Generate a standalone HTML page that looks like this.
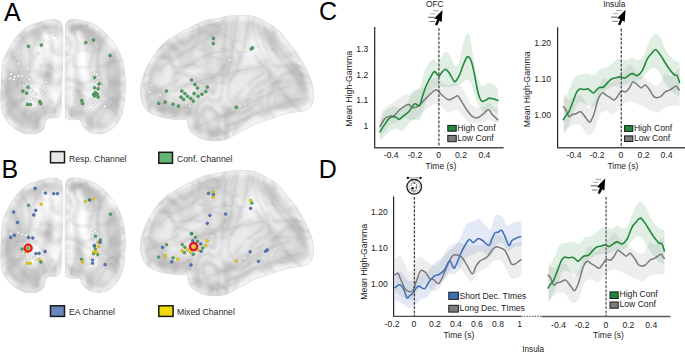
<!DOCTYPE html><html><head><meta charset="utf-8"><style>html,body{margin:0;padding:0;background:#fff;}svg{display:block;}text{font-family:"Liberation Sans",sans-serif;}</style></head><body>
<svg width="685" height="353" viewBox="0 0 685 353">
<defs>
<radialGradient id="gl" cx="50%" cy="45%" r="60%"><stop offset="0" stop-color="#d9d9d9"/><stop offset="0.8" stop-color="#d6d6d6"/><stop offset="1" stop-color="#e4e4e4"/></radialGradient>
<filter id="tex" x="0" y="0" width="1" height="1" color-interpolation-filters="sRGB"><feTurbulence type="turbulence" baseFrequency="0.04 0.06" numOctaves="2" seed="7"/><feColorMatrix type="matrix" values="0 0 0 0 0.55  0 0 0 0 0.55  0 0 0 0 0.55  -0.9 0 0 0 0.22"/></filter>
<filter id="tex2" x="0" y="0" width="1" height="1" color-interpolation-filters="sRGB"><feTurbulence type="fractalNoise" baseFrequency="0.03" numOctaves="2" seed="11"/><feColorMatrix type="matrix" values="0 0 0 0 1  0 0 0 0 1  0 0 0 0 1  1.6 0 0 0 -0.6"/></filter>
<filter id="folds" x="0" y="0" width="1" height="1" color-interpolation-filters="sRGB"><feTurbulence type="fractalNoise" baseFrequency="0.022 0.016" numOctaves="2" seed="21"/><feColorMatrix type="matrix" values="0 0 0 0 0.3  0 0 0 0 0.3  0 0 0 0 0.3  1 0 0 0 0"/><feComponentTransfer><feFuncA type="table" tableValues="0.00 0.00 0.00 0.00 0.00 0.00 0.00 0.00 0.00 0.00 0.00 0.00 0.00 0.00 0.00 0.04 0.14 0.04 0.00 0.04 0.14 0.04 0.00 0.04 0.14 0.04 0.00 0.00 0.00 0.00 0.00 0.00 0.00 0.00 0.00 0.00 0.00 0.00 0.00 0.00 0.00"/></feComponentTransfer><feGaussianBlur stdDeviation="0.8"/></filter>
<filter id="soft" x="-0.1" y="-0.1" width="1.2" height="1.2"><feGaussianBlur stdDeviation="2.5"/></filter>
<filter id="blur1"><feGaussianBlur stdDeviation="0.6"/></filter>
<path id="blat" d="M140.3,92.1 C140.3,89.3 140.7,86.4 141.4,83.0 C142.2,79.6 143.3,75.5 144.8,71.7 C146.3,67.9 148.2,64.2 150.5,60.4 C152.8,56.6 155.6,52.4 158.4,49.0 C161.2,45.6 164.8,42.1 167.4,40.0 C170.0,37.9 171.3,37.9 173.8,36.4 C176.3,34.9 179.6,32.9 182.5,31.3 C185.4,29.7 188.4,28.4 191.3,26.9 C194.2,25.4 197.1,23.7 200.0,22.5 C202.9,21.3 205.9,20.3 208.8,19.6 C211.7,18.9 214.2,19.0 217.6,18.4 C221.0,17.8 225.3,16.5 229.2,16.0 C233.1,15.5 237.0,15.6 240.9,15.6 C244.8,15.6 249.7,15.6 252.6,16.0 C255.5,16.4 255.8,16.9 258.4,18.1 C261.0,19.3 264.8,21.2 268.0,23.1 C271.2,25.0 274.6,26.6 277.8,29.6 C281.1,32.6 284.5,37.4 287.5,41.0 C290.5,44.6 293.5,48.0 295.6,51.0 C297.8,54.0 298.8,56.4 300.4,59.0 C302.0,61.6 303.7,64.1 305.0,66.5 C306.3,68.9 307.2,70.9 308.3,73.6 C309.4,76.3 310.8,79.4 311.7,82.6 C312.6,85.8 313.3,89.8 313.5,93.0 C313.7,96.2 313.5,99.5 312.8,102.0 C312.1,104.5 311.1,106.7 309.4,108.2 C307.7,109.7 304.9,110.3 302.6,110.9 C300.3,111.5 298.1,111.6 295.8,112.0 C293.5,112.4 291.6,112.6 289.0,113.2 C286.4,113.8 282.8,114.7 280.0,115.6 C277.2,116.5 274.3,117.7 272.0,118.5 C269.7,119.3 268.0,119.9 266.0,120.6 C264.0,121.3 262.0,121.9 260.0,122.6 C258.0,123.3 255.8,123.8 254.0,124.6 C252.2,125.4 250.6,126.3 248.9,127.3 C247.2,128.3 245.6,129.5 244.0,130.4 C242.4,131.3 241.0,131.6 239.2,132.5 C237.4,133.4 235.3,134.8 233.4,135.8 C231.5,136.8 229.8,137.9 227.6,138.7 C225.4,139.5 222.7,140.2 220.3,140.6 C217.9,141.0 215.7,141.1 213.0,140.9 C210.3,140.7 206.9,140.1 204.2,139.4 C201.5,138.7 199.1,137.7 196.9,136.5 C194.7,135.3 192.6,133.8 191.1,132.1 C189.6,130.4 188.7,128.2 188.1,126.3 C187.5,124.3 188.4,121.5 187.4,120.4 C186.4,119.3 184.9,119.7 182.3,119.5 C179.7,119.3 175.6,119.6 172.0,119.2 C168.4,118.8 164.0,117.9 160.6,117.0 C157.2,116.1 154.2,115.1 151.6,113.6 C149.0,112.1 146.5,110.2 144.8,107.9 C143.1,105.6 142.2,102.6 141.4,100.0 C140.7,97.4 140.3,94.9 140.3,92.1Z"/>
<path id="baxl" d="M58.0,20.3 C59.5,20.9 60.5,21.7 61.3,23.0 C62.0,24.3 62.2,25.2 62.5,28.0 C62.8,30.8 62.8,35.5 62.8,40.0 C62.8,44.5 62.8,50.0 62.8,55.0 C62.8,60.0 62.7,65.0 62.5,70.0 C62.3,75.0 62.0,80.5 61.8,85.0 C61.6,89.5 61.6,93.3 61.5,97.0 C61.4,100.7 61.5,104.1 61.2,107.2 C60.9,110.3 60.4,114.0 59.5,115.7 C58.6,117.5 57.8,117.3 56.1,117.7 C54.4,118.1 51.0,117.7 49.3,118.2 C47.6,118.7 46.9,118.9 45.9,120.8 C44.9,122.7 44.7,127.2 43.3,129.3 C41.9,131.4 39.8,132.7 37.4,133.5 C35.0,134.3 31.4,134.1 28.9,134.0 C26.3,133.9 24.7,133.8 22.1,132.7 C19.6,131.6 16.1,129.6 13.6,127.6 C11.0,125.6 8.8,123.6 6.8,120.8 C4.8,118.0 2.7,114.6 1.7,110.6 C0.7,106.6 0.9,102.1 0.8,97.0 C0.7,91.9 1.0,85.5 1.3,80.0 C1.6,74.5 2.0,68.0 2.6,64.0 C3.2,60.0 3.8,59.2 5.1,56.2 C6.4,53.2 8.2,49.4 10.2,46.0 C12.2,42.6 14.4,38.8 17.0,35.8 C19.6,32.8 22.7,30.1 25.5,28.1 C28.3,26.1 31.2,25.0 34.0,23.9 C36.8,22.8 39.5,22.0 42.5,21.3 C45.5,20.6 49.4,19.8 52.0,19.6 C54.6,19.4 56.5,19.7 58.0,20.3Z"/>
<path id="baxr" d="M66.6,22.5 C67.2,21.3 68.3,20.6 69.5,20.0 C70.7,19.4 72.0,19.1 74.0,19.2 C76.0,19.3 78.1,19.6 81.6,20.5 C85.1,21.4 90.8,22.2 94.9,24.5 C99.0,26.8 102.8,30.5 106.3,34.0 C109.8,37.5 113.0,41.1 115.7,45.4 C118.4,49.7 120.7,54.6 122.3,60.0 C123.9,65.4 124.7,73.0 125.2,78.0 C125.7,83.0 125.4,85.8 125.2,90.0 C125.0,94.2 124.9,99.2 124.3,103.5 C123.7,107.8 122.8,112.4 121.4,116.0 C120.0,119.6 117.9,122.6 115.7,125.2 C113.5,127.8 111.0,130.0 108.2,131.4 C105.4,132.8 101.9,133.7 98.7,133.8 C95.5,133.9 91.9,133.2 89.2,131.9 C86.5,130.6 84.2,128.2 82.6,126.2 C81.0,124.2 81.5,120.6 79.7,119.6 C78.0,118.6 74.2,120.3 72.1,120.1 C69.9,119.9 67.9,119.8 66.8,118.6 C65.7,117.4 65.6,120.3 65.3,113.0 C65.0,105.7 65.1,87.2 65.1,75.0 C65.1,62.8 65.1,48.0 65.2,40.0 C65.3,32.0 65.4,29.9 65.6,27.0 C65.8,24.1 65.9,23.7 66.6,22.5Z"/>
<clipPath id="clat"><use href="#blat"/></clipPath>
<clipPath id="caxl"><use href="#baxl"/></clipPath>
<clipPath id="caxr"><use href="#baxr"/></clipPath>
<clipPath id="cCL"><rect x="375" y="26" width="130" height="121.5"/></clipPath>
<clipPath id="cCR"><rect x="558" y="26" width="127" height="121.5"/></clipPath>
<clipPath id="cDL"><rect x="394" y="195" width="127.6" height="121"/></clipPath>
<clipPath id="cDR"><rect x="540" y="195" width="132" height="121"/></clipPath>
</defs>
<defs><filter id="bl5" filterUnits="userSpaceOnUse" x="-20" y="-20" width="400" height="200"><feGaussianBlur stdDeviation="5"/></filter>
<filter id="bl3" filterUnits="userSpaceOnUse" x="-20" y="-20" width="400" height="200"><feGaussianBlur stdDeviation="3"/></filter>
<filter id="bl2" filterUnits="userSpaceOnUse" x="-20" y="-20" width="400" height="200"><feGaussianBlur stdDeviation="2"/></filter>
<filter id="bl05" filterUnits="userSpaceOnUse" x="-20" y="-20" width="400" height="200"><feGaussianBlur stdDeviation="0.5"/></filter>
<filter id="bl15" filterUnits="userSpaceOnUse" x="-20" y="-20" width="400" height="200"><feGaussianBlur stdDeviation="1.5"/></filter>
<filter id="bl1" filterUnits="userSpaceOnUse" x="-20" y="-20" width="400" height="200"><feGaussianBlur stdDeviation="1"/></filter>
<filter id="bl07" filterUnits="userSpaceOnUse" x="-20" y="-20" width="400" height="200"><feGaussianBlur stdDeviation="0.7"/></filter>
<g id="gax" filter="url(#bl07)">
<use href="#baxl" fill="#e2e2e2"/>
<g clip-path="url(#caxl)">
<use href="#baxl" fill="none" stroke="#c2c2c2" stroke-width="30" filter="url(#bl5)"/>
<path d="M47,32 C44,47 40,63 37,78 S31,98 31,106 M59,34 L57,108" fill="none" stroke="#ffffff" stroke-width="12" filter="url(#bl2)"/>
<use href="#baxl" fill="none" stroke="#ededed" stroke-width="9" filter="url(#bl15)"/>
<rect x="0" y="10" width="130" height="130" filter="url(#tex)"/><rect x="0" y="10" width="130" height="130" filter="url(#tex2)"/><rect x="0" y="10" width="130" height="130" filter="url(#folds)"/>
<g fill="none" stroke="#9a9a9a" stroke-width="1" stroke-opacity="0.2" filter="url(#bl05)"><path d="M10,50 C20,60 22,75 15,90"/><path d="M20,35 C30,45 33,60 28,75"/><path d="M8,100 C18,105 25,112 30,125"/><path d="M45,25 C40,35 35,45 30,50"/><path d="M50,100 C55,105 57,112 55,118"/><path d="M5,70 C12,72 18,80 20,95"/></g>
<g fill="none" stroke="#b0b0b0" stroke-width="4.5" stroke-opacity="0.28" filter="url(#bl2)"><path d="M10,50 C20,60 22,75 15,90"/><path d="M20,35 C30,45 33,60 28,75"/><path d="M8,100 C18,105 25,112 30,125"/><path d="M45,25 C40,35 35,45 30,50"/><path d="M50,100 C55,105 57,112 55,118"/><path d="M5,70 C12,72 18,80 20,95"/></g>
</g>
<use href="#baxl" fill="none" stroke="#dadada" stroke-width="0.5"/>
<use href="#baxr" fill="#e2e2e2"/>
<g clip-path="url(#caxr)">
<use href="#baxr" fill="none" stroke="#c2c2c2" stroke-width="30" filter="url(#bl5)"/>
<path d="M76,32 C79,47 83,63 87,80 S92,100 92,108 M68,34 L69,108" fill="none" stroke="#ffffff" stroke-width="12" filter="url(#bl2)"/>
<use href="#baxr" fill="none" stroke="#ededed" stroke-width="9" filter="url(#bl15)"/>
<rect x="0" y="10" width="130" height="130" filter="url(#tex)"/><rect x="0" y="10" width="130" height="130" filter="url(#tex2)"/><rect x="0" y="10" width="130" height="130" filter="url(#folds)"/>
<g fill="none" stroke="#9a9a9a" stroke-width="1" stroke-opacity="0.2" filter="url(#bl05)"><path d="M117.2,50.0 C107.2,60.0 105.2,75.0 112.2,90.0"/><path d="M107.2,35.0 C97.2,45.0 94.2,60.0 99.2,75.0"/><path d="M119.2,100.0 C109.2,105.0 102.2,112.0 97.2,125.0"/><path d="M82.2,25.0 C87.2,35.0 92.2,45.0 97.2,50.0"/><path d="M77.2,100.0 C72.2,105.0 70.2,112.0 72.2,118.0"/><path d="M122.2,70.0 C115.2,72.0 109.2,80.0 107.2,95.0"/></g>
<g fill="none" stroke="#b0b0b0" stroke-width="4.5" stroke-opacity="0.28" filter="url(#bl2)"><path d="M117.2,50.0 C107.2,60.0 105.2,75.0 112.2,90.0"/><path d="M107.2,35.0 C97.2,45.0 94.2,60.0 99.2,75.0"/><path d="M119.2,100.0 C109.2,105.0 102.2,112.0 97.2,125.0"/><path d="M82.2,25.0 C87.2,35.0 92.2,45.0 97.2,50.0"/><path d="M77.2,100.0 C72.2,105.0 70.2,112.0 72.2,118.0"/><path d="M122.2,70.0 C115.2,72.0 109.2,80.0 107.2,95.0"/></g>
</g>
<use href="#baxr" fill="none" stroke="#dadada" stroke-width="0.5"/>
</g>
<g id="glat" filter="url(#bl07)">
<use href="#blat" fill="#e3e3e3"/>
<g clip-path="url(#clat)">
<use href="#blat" fill="none" stroke="#cacaca" stroke-width="30" filter="url(#bl5)"/>
<path d="M165,68 C185,58 215,52 245,50 S280,58 290,66" fill="none" stroke="#f0f0f0" stroke-width="9" filter="url(#bl3)"/>
<path d="M198,122 C215,128 235,126 255,114" fill="none" stroke="#eeeeee" stroke-width="8" filter="url(#bl3)"/>
<use href="#blat" fill="none" stroke="#ededed" stroke-width="10" filter="url(#bl15)"/>
<rect x="140" y="10" width="180" height="135" filter="url(#tex)"/><rect x="140" y="10" width="180" height="135" filter="url(#tex2)"/><rect x="140" y="10" width="180" height="135" filter="url(#folds)"/>
<g fill="none" stroke="#9a9a9a" stroke-width="1" stroke-opacity="0.22" filter="url(#bl05)" stroke-linecap="round"><path d="M151,57 Q165,40 195,30 T224,21"/><path d="M158,70 C170,60 186,52 200,43 S213,33 222,30"/><path d="M173,76 C185,68 199,57 210,54 S222,52 232,50"/><path d="M238,17 C236,28 233,40 232,52 S228,70 226,78"/><path d="M249,19 C248,28 246,36 245,43 S240,58 236,66"/><path d="M262,33 C270,45 280,58 290,70 S300,85 305,92"/><path d="M271,39 C282,52 292,64 302,76"/><path d="M255,55 C265,68 275,80 285,95 S295,105 300,110"/><path d="M178,88 C195,82 215,76 235,72 S255,68 265,66"/><path d="M225,117 C240,108 255,100 262,97 S280,88 290,86"/><path d="M225,128 C240,120 255,113 271,108 S290,100 299,99"/><path d="M195,128 C210,122 220,116 228,112"/><path d="M158,110 C168,108 178,108 188,108"/><path d="M148,95 C160,90 170,84 178,80"/></g>
<g fill="none" stroke="#b0b0b0" stroke-width="4.5" stroke-opacity="0.3" filter="url(#bl2)" stroke-linecap="round"><path d="M158,70 C170,60 186,52 200,43 S213,33 222,30"/><path d="M173,76 C185,68 199,57 210,54 S222,52 232,50"/><path d="M238,17 C236,28 233,40 232,52 S228,70 226,78"/><path d="M249,19 C248,28 246,36 245,43 S240,58 236,66"/><path d="M262,33 C270,45 280,58 290,70 S300,85 305,92"/><path d="M271,39 C282,52 292,64 302,76"/><path d="M255,55 C265,68 275,80 285,95 S295,105 300,110"/><path d="M178,88 C195,82 215,76 235,72 S255,68 265,66"/><path d="M225,117 C240,108 255,100 262,97 S280,88 290,86"/><path d="M225,128 C240,120 255,113 271,108 S290,100 299,99"/><path d="M195,128 C210,122 220,116 228,112"/><path d="M158,110 C168,108 178,108 188,108"/><path d="M148,95 C160,90 170,84 178,80"/></g>
</g>
<use href="#blat" fill="none" stroke="#dadada" stroke-width="0.5"/>
</g></defs>
<use href="#gax"/><use href="#glat"/>
<use href="#gax" transform="translate(0,158.5)"/><use href="#glat" transform="translate(0,155)"/>
<circle cx="11.0" cy="73.9" r="1.5" fill="#fbfbfb" stroke="#a8a8a8" stroke-width="0.5"/>
<circle cx="14.7" cy="76.7" r="1.5" fill="#fbfbfb" stroke="#a8a8a8" stroke-width="0.5"/>
<circle cx="18.4" cy="75.8" r="1.5" fill="#fbfbfb" stroke="#a8a8a8" stroke-width="0.5"/>
<circle cx="22.1" cy="75.8" r="1.5" fill="#fbfbfb" stroke="#a8a8a8" stroke-width="0.5"/>
<circle cx="10.1" cy="78.5" r="1.5" fill="#fbfbfb" stroke="#a8a8a8" stroke-width="0.5"/>
<circle cx="13.8" cy="79.5" r="1.5" fill="#fbfbfb" stroke="#a8a8a8" stroke-width="0.5"/>
<circle cx="29.5" cy="79.5" r="1.5" fill="#fbfbfb" stroke="#a8a8a8" stroke-width="0.5"/>
<circle cx="28.5" cy="68.4" r="1.5" fill="#fbfbfb" stroke="#a8a8a8" stroke-width="0.5"/>
<circle cx="23.9" cy="85.9" r="1.5" fill="#fbfbfb" stroke="#a8a8a8" stroke-width="0.5"/>
<circle cx="26.7" cy="84.1" r="1.5" fill="#fbfbfb" stroke="#a8a8a8" stroke-width="0.5"/>
<circle cx="31.3" cy="90.5" r="1.5" fill="#fbfbfb" stroke="#a8a8a8" stroke-width="0.5"/>
<circle cx="27.6" cy="96.0" r="1.5" fill="#fbfbfb" stroke="#a8a8a8" stroke-width="0.5"/>
<circle cx="31.3" cy="98.8" r="1.5" fill="#fbfbfb" stroke="#a8a8a8" stroke-width="0.5"/>
<circle cx="35.0" cy="99.7" r="1.5" fill="#fbfbfb" stroke="#a8a8a8" stroke-width="0.5"/>
<circle cx="35.9" cy="94.2" r="1.5" fill="#fbfbfb" stroke="#a8a8a8" stroke-width="0.5"/>
<circle cx="25.8" cy="100.6" r="1.5" fill="#fbfbfb" stroke="#a8a8a8" stroke-width="0.5"/>
<circle cx="42.4" cy="93.3" r="1.5" fill="#fbfbfb" stroke="#a8a8a8" stroke-width="0.5"/>
<circle cx="18.4" cy="63.8" r="1.5" fill="#fbfbfb" stroke="#a8a8a8" stroke-width="0.5"/>
<circle cx="34.1" cy="57.4" r="1.5" fill="#fbfbfb" stroke="#a8a8a8" stroke-width="0.5"/>
<circle cx="37.8" cy="53.7" r="1.5" fill="#fbfbfb" stroke="#a8a8a8" stroke-width="0.5"/>
<circle cx="91.7" cy="73.9" r="1.5" fill="#fbfbfb" stroke="#a8a8a8" stroke-width="0.5"/>
<circle cx="94.5" cy="73.0" r="1.5" fill="#fbfbfb" stroke="#a8a8a8" stroke-width="0.5"/>
<circle cx="97.2" cy="73.9" r="1.5" fill="#fbfbfb" stroke="#a8a8a8" stroke-width="0.5"/>
<circle cx="92.6" cy="77.6" r="1.5" fill="#fbfbfb" stroke="#a8a8a8" stroke-width="0.5"/>
<circle cx="99.1" cy="77.6" r="1.5" fill="#fbfbfb" stroke="#a8a8a8" stroke-width="0.5"/>
<circle cx="97.2" cy="82.2" r="1.5" fill="#fbfbfb" stroke="#a8a8a8" stroke-width="0.5"/>
<circle cx="100.0" cy="84.1" r="1.5" fill="#fbfbfb" stroke="#a8a8a8" stroke-width="0.5"/>
<circle cx="100.9" cy="85.9" r="1.5" fill="#fbfbfb" stroke="#a8a8a8" stroke-width="0.5"/>
<circle cx="90.8" cy="99.7" r="1.5" fill="#fbfbfb" stroke="#a8a8a8" stroke-width="0.5"/>
<circle cx="89.0" cy="104.3" r="1.5" fill="#fbfbfb" stroke="#a8a8a8" stroke-width="0.5"/>
<circle cx="93.5" cy="104.3" r="1.5" fill="#fbfbfb" stroke="#a8a8a8" stroke-width="0.5"/>
<circle cx="92.6" cy="101.6" r="1.5" fill="#fbfbfb" stroke="#a8a8a8" stroke-width="0.5"/>
<circle cx="95.4" cy="102.5" r="1.5" fill="#fbfbfb" stroke="#a8a8a8" stroke-width="0.5"/>
<circle cx="104.6" cy="106.2" r="1.5" fill="#fbfbfb" stroke="#a8a8a8" stroke-width="0.5"/>
<circle cx="54.0" cy="34.0" r="1.5" fill="#fbfbfb" stroke="#a8a8a8" stroke-width="0.5"/>
<circle cx="57.0" cy="35.5" r="1.5" fill="#fbfbfb" stroke="#a8a8a8" stroke-width="0.5"/>
<circle cx="42.0" cy="72.0" r="1.5" fill="#fbfbfb" stroke="#a8a8a8" stroke-width="0.5"/>
<circle cx="46.0" cy="82.0" r="1.5" fill="#fbfbfb" stroke="#a8a8a8" stroke-width="0.5"/>
<circle cx="188.0" cy="78.0" r="1.2" fill="#f8f8f8" stroke="#bdbdbd" stroke-width="0.4"/>
<circle cx="190.0" cy="106.0" r="1.2" fill="#f8f8f8" stroke="#bdbdbd" stroke-width="0.4"/>
<circle cx="171.0" cy="92.0" r="1.2" fill="#f8f8f8" stroke="#bdbdbd" stroke-width="0.4"/>
<circle cx="160.0" cy="95.0" r="1.2" fill="#f8f8f8" stroke="#bdbdbd" stroke-width="0.4"/>
<circle cx="201.0" cy="100.0" r="1.2" fill="#f8f8f8" stroke="#bdbdbd" stroke-width="0.4"/>
<circle cx="211.0" cy="85.0" r="1.2" fill="#f8f8f8" stroke="#bdbdbd" stroke-width="0.4"/>
<circle cx="152.0" cy="85.0" r="1.2" fill="#f8f8f8" stroke="#bdbdbd" stroke-width="0.4"/>
<circle cx="150.0" cy="92.0" r="1.2" fill="#f8f8f8" stroke="#bdbdbd" stroke-width="0.4"/>
<circle cx="155.0" cy="80.0" r="1.2" fill="#f8f8f8" stroke="#bdbdbd" stroke-width="0.4"/>
<circle cx="245.0" cy="104.0" r="1.2" fill="#f8f8f8" stroke="#bdbdbd" stroke-width="0.4"/>
<circle cx="240.0" cy="106.0" r="1.2" fill="#f8f8f8" stroke="#bdbdbd" stroke-width="0.4"/>
<circle cx="256.0" cy="108.0" r="1.2" fill="#f8f8f8" stroke="#bdbdbd" stroke-width="0.4"/>
<circle cx="250.0" cy="86.0" r="1.2" fill="#f8f8f8" stroke="#bdbdbd" stroke-width="0.4"/>
<circle cx="214.0" cy="48.0" r="1.2" fill="#f8f8f8" stroke="#bdbdbd" stroke-width="0.4"/>
<circle cx="230.0" cy="60.0" r="1.2" fill="#f8f8f8" stroke="#bdbdbd" stroke-width="0.4"/>
<circle cx="28.5" cy="46.3" r="1.5" fill="#52a062" stroke="#357f45" stroke-width="0.5"/>
<circle cx="41.4" cy="45.0" r="1.5" fill="#52a062" stroke="#357f45" stroke-width="0.5"/>
<circle cx="85.8" cy="42.5" r="1.5" fill="#52a062" stroke="#357f45" stroke-width="0.5"/>
<circle cx="93.5" cy="40.0" r="1.5" fill="#52a062" stroke="#357f45" stroke-width="0.5"/>
<circle cx="110.1" cy="55.5" r="1.5" fill="#52a062" stroke="#357f45" stroke-width="0.5"/>
<circle cx="28.1" cy="87.3" r="1.5" fill="#52a062" stroke="#357f45" stroke-width="0.5"/>
<circle cx="26.6" cy="93.0" r="1.5" fill="#52a062" stroke="#357f45" stroke-width="0.5"/>
<circle cx="22.8" cy="91.1" r="1.5" fill="#52a062" stroke="#357f45" stroke-width="0.5"/>
<circle cx="39.8" cy="101.6" r="1.5" fill="#52a062" stroke="#357f45" stroke-width="0.5"/>
<circle cx="40.8" cy="103.5" r="1.5" fill="#52a062" stroke="#357f45" stroke-width="0.5"/>
<circle cx="27.5" cy="104.4" r="1.5" fill="#52a062" stroke="#357f45" stroke-width="0.5"/>
<circle cx="30.4" cy="104.4" r="1.5" fill="#52a062" stroke="#357f45" stroke-width="0.5"/>
<circle cx="94.5" cy="77.6" r="1.5" fill="#52a062" stroke="#357f45" stroke-width="0.5"/>
<circle cx="99.1" cy="84.1" r="1.5" fill="#52a062" stroke="#357f45" stroke-width="0.5"/>
<circle cx="98.1" cy="88.7" r="1.5" fill="#52a062" stroke="#357f45" stroke-width="0.5"/>
<circle cx="94.5" cy="87.8" r="1.5" fill="#52a062" stroke="#357f45" stroke-width="0.5"/>
<circle cx="93.5" cy="94.2" r="1.5" fill="#52a062" stroke="#357f45" stroke-width="0.5"/>
<circle cx="95.4" cy="92.4" r="1.5" fill="#52a062" stroke="#357f45" stroke-width="0.5"/>
<circle cx="97.2" cy="94.2" r="1.5" fill="#52a062" stroke="#357f45" stroke-width="0.5"/>
<circle cx="98.1" cy="97.0" r="1.5" fill="#52a062" stroke="#357f45" stroke-width="0.5"/>
<circle cx="94.5" cy="96.0" r="1.5" fill="#52a062" stroke="#357f45" stroke-width="0.5"/>
<circle cx="81.6" cy="100.6" r="1.5" fill="#52a062" stroke="#357f45" stroke-width="0.5"/>
<circle cx="82.5" cy="103.4" r="1.5" fill="#52a062" stroke="#357f45" stroke-width="0.5"/>
<circle cx="191.5" cy="80.0" r="1.5" fill="#52a062" stroke="#357f45" stroke-width="0.5"/>
<circle cx="194.9" cy="84.5" r="1.5" fill="#52a062" stroke="#357f45" stroke-width="0.5"/>
<circle cx="197.5" cy="87.9" r="1.5" fill="#52a062" stroke="#357f45" stroke-width="0.5"/>
<circle cx="207.3" cy="87.1" r="1.5" fill="#52a062" stroke="#357f45" stroke-width="0.5"/>
<circle cx="205.9" cy="91.5" r="1.5" fill="#52a062" stroke="#357f45" stroke-width="0.5"/>
<circle cx="202.0" cy="94.2" r="1.5" fill="#52a062" stroke="#357f45" stroke-width="0.5"/>
<circle cx="198.1" cy="96.3" r="1.5" fill="#52a062" stroke="#357f45" stroke-width="0.5"/>
<circle cx="194.1" cy="93.6" r="1.5" fill="#52a062" stroke="#357f45" stroke-width="0.5"/>
<circle cx="181.8" cy="91.0" r="1.5" fill="#52a062" stroke="#357f45" stroke-width="0.5"/>
<circle cx="184.9" cy="93.6" r="1.5" fill="#52a062" stroke="#357f45" stroke-width="0.5"/>
<circle cx="187.5" cy="96.3" r="1.5" fill="#52a062" stroke="#357f45" stroke-width="0.5"/>
<circle cx="190.7" cy="98.4" r="1.5" fill="#52a062" stroke="#357f45" stroke-width="0.5"/>
<circle cx="193.3" cy="101.0" r="1.5" fill="#52a062" stroke="#357f45" stroke-width="0.5"/>
<circle cx="181.0" cy="97.1" r="1.5" fill="#52a062" stroke="#357f45" stroke-width="0.5"/>
<circle cx="183.6" cy="99.4" r="1.5" fill="#52a062" stroke="#357f45" stroke-width="0.5"/>
<circle cx="166.5" cy="91.0" r="1.5" fill="#52a062" stroke="#357f45" stroke-width="0.5"/>
<circle cx="158.6" cy="103.4" r="1.5" fill="#52a062" stroke="#357f45" stroke-width="0.5"/>
<circle cx="165.2" cy="102.1" r="1.5" fill="#52a062" stroke="#357f45" stroke-width="0.5"/>
<circle cx="173.1" cy="104.2" r="1.5" fill="#52a062" stroke="#357f45" stroke-width="0.5"/>
<circle cx="178.4" cy="106.0" r="1.5" fill="#52a062" stroke="#357f45" stroke-width="0.5"/>
<circle cx="236.2" cy="107.3" r="1.5" fill="#52a062" stroke="#357f45" stroke-width="0.5"/>
<circle cx="213.3" cy="38.4" r="1.5" fill="#52a062" stroke="#357f45" stroke-width="0.5"/>
<circle cx="213.3" cy="43.4" r="1.5" fill="#52a062" stroke="#357f45" stroke-width="0.5"/>
<circle cx="251.4" cy="48.9" r="1.5" fill="#52a062" stroke="#357f45" stroke-width="0.5"/>
<circle cx="252.5" cy="47.8" r="1.5" fill="#52a062" stroke="#357f45" stroke-width="0.5"/>
<circle cx="11.0" cy="233.4" r="1.4" fill="#fbfbfb" stroke="#a8a8a8" stroke-width="0.5"/>
<circle cx="18.4" cy="232.5" r="1.4" fill="#fbfbfb" stroke="#a8a8a8" stroke-width="0.5"/>
<circle cx="22.1" cy="234.3" r="1.4" fill="#fbfbfb" stroke="#a8a8a8" stroke-width="0.5"/>
<circle cx="25.8" cy="235.3" r="1.4" fill="#fbfbfb" stroke="#a8a8a8" stroke-width="0.5"/>
<circle cx="23.6" cy="253.7" r="1.4" fill="#fbfbfb" stroke="#a8a8a8" stroke-width="0.5"/>
<circle cx="26.7" cy="254.6" r="1.4" fill="#fbfbfb" stroke="#a8a8a8" stroke-width="0.5"/>
<circle cx="31.3" cy="257.4" r="1.4" fill="#fbfbfb" stroke="#a8a8a8" stroke-width="0.5"/>
<circle cx="35.0" cy="258.3" r="1.4" fill="#fbfbfb" stroke="#a8a8a8" stroke-width="0.5"/>
<circle cx="42.4" cy="253.7" r="1.4" fill="#fbfbfb" stroke="#a8a8a8" stroke-width="0.5"/>
<circle cx="29.5" cy="226.0" r="1.4" fill="#fbfbfb" stroke="#a8a8a8" stroke-width="0.5"/>
<circle cx="27.6" cy="261.0" r="1.4" fill="#fbfbfb" stroke="#a8a8a8" stroke-width="0.5"/>
<circle cx="35.9" cy="242.6" r="1.4" fill="#fbfbfb" stroke="#a8a8a8" stroke-width="0.5"/>
<circle cx="92.6" cy="232.5" r="1.4" fill="#fbfbfb" stroke="#a8a8a8" stroke-width="0.5"/>
<circle cx="95.4" cy="231.6" r="1.4" fill="#fbfbfb" stroke="#a8a8a8" stroke-width="0.5"/>
<circle cx="97.2" cy="233.4" r="1.4" fill="#fbfbfb" stroke="#a8a8a8" stroke-width="0.5"/>
<circle cx="92.6" cy="237.1" r="1.4" fill="#fbfbfb" stroke="#a8a8a8" stroke-width="0.5"/>
<circle cx="98.1" cy="239.0" r="1.4" fill="#fbfbfb" stroke="#a8a8a8" stroke-width="0.5"/>
<circle cx="90.8" cy="259.2" r="1.4" fill="#fbfbfb" stroke="#a8a8a8" stroke-width="0.5"/>
<circle cx="88.9" cy="263.8" r="1.4" fill="#fbfbfb" stroke="#a8a8a8" stroke-width="0.5"/>
<circle cx="100.0" cy="251.8" r="1.4" fill="#fbfbfb" stroke="#a8a8a8" stroke-width="0.5"/>
<circle cx="100.9" cy="257.4" r="1.4" fill="#fbfbfb" stroke="#a8a8a8" stroke-width="0.5"/>
<circle cx="188.0" cy="233.0" r="1.2" fill="#f8f8f8" stroke="#bdbdbd" stroke-width="0.4"/>
<circle cx="172.0" cy="236.0" r="1.2" fill="#f8f8f8" stroke="#bdbdbd" stroke-width="0.4"/>
<circle cx="160.0" cy="240.0" r="1.2" fill="#f8f8f8" stroke="#bdbdbd" stroke-width="0.4"/>
<circle cx="152.0" cy="236.0" r="1.2" fill="#f8f8f8" stroke="#bdbdbd" stroke-width="0.4"/>
<circle cx="176.0" cy="260.0" r="1.2" fill="#f8f8f8" stroke="#bdbdbd" stroke-width="0.4"/>
<circle cx="212.0" cy="236.0" r="1.2" fill="#f8f8f8" stroke="#bdbdbd" stroke-width="0.4"/>
<circle cx="245.0" cy="258.0" r="1.2" fill="#f8f8f8" stroke="#bdbdbd" stroke-width="0.4"/>
<circle cx="240.0" cy="262.0" r="1.2" fill="#f8f8f8" stroke="#bdbdbd" stroke-width="0.4"/>
<circle cx="35.1" cy="188.4" r="1.4" fill="#5577b8" stroke="#34528c" stroke-width="0.5"/>
<circle cx="45.5" cy="193.1" r="1.4" fill="#5577b8" stroke="#34528c" stroke-width="0.5"/>
<circle cx="53.7" cy="193.7" r="1.4" fill="#5577b8" stroke="#34528c" stroke-width="0.5"/>
<circle cx="57.5" cy="193.7" r="1.4" fill="#5577b8" stroke="#34528c" stroke-width="0.5"/>
<circle cx="13.7" cy="212.1" r="1.4" fill="#5577b8" stroke="#34528c" stroke-width="0.5"/>
<circle cx="35.7" cy="210.4" r="1.4" fill="#5577b8" stroke="#34528c" stroke-width="0.5"/>
<circle cx="33.8" cy="215.0" r="1.4" fill="#5577b8" stroke="#34528c" stroke-width="0.5"/>
<circle cx="17.5" cy="222.4" r="1.4" fill="#5577b8" stroke="#34528c" stroke-width="0.5"/>
<circle cx="89.6" cy="200.0" r="1.4" fill="#5577b8" stroke="#34528c" stroke-width="0.5"/>
<circle cx="41.2" cy="204.2" r="1.4" fill="#eccd12" stroke="#b89d05" stroke-width="0.5"/>
<circle cx="85.4" cy="201.3" r="1.4" fill="#eccd12" stroke="#b89d05" stroke-width="0.5"/>
<circle cx="93.4" cy="198.8" r="1.4" fill="#eccd12" stroke="#b89d05" stroke-width="0.5"/>
<circle cx="28.5" cy="205.3" r="1.4" fill="#52a062" stroke="#357f45" stroke-width="0.5"/>
<circle cx="110.4" cy="214.2" r="1.4" fill="#52a062" stroke="#357f45" stroke-width="0.5"/>
<circle cx="10.7" cy="237.5" r="1.4" fill="#5577b8" stroke="#34528c" stroke-width="0.5"/>
<circle cx="14.4" cy="235.3" r="1.4" fill="#5577b8" stroke="#34528c" stroke-width="0.5"/>
<circle cx="28.5" cy="237.5" r="1.4" fill="#5577b8" stroke="#34528c" stroke-width="0.5"/>
<circle cx="32.8" cy="238.0" r="1.4" fill="#5577b8" stroke="#34528c" stroke-width="0.5"/>
<circle cx="35.9" cy="253.7" r="1.4" fill="#5577b8" stroke="#34528c" stroke-width="0.5"/>
<circle cx="39.0" cy="253.3" r="1.4" fill="#5577b8" stroke="#34528c" stroke-width="0.5"/>
<circle cx="45.1" cy="251.5" r="1.4" fill="#5577b8" stroke="#34528c" stroke-width="0.5"/>
<circle cx="22.1" cy="249.1" r="1.4" fill="#52a062" stroke="#357f45" stroke-width="0.5"/>
<circle cx="40.9" cy="262.0" r="1.4" fill="#52a062" stroke="#357f45" stroke-width="0.5"/>
<circle cx="39.2" cy="259.6" r="1.4" fill="#eccd12" stroke="#b89d05" stroke-width="0.5"/>
<circle cx="27.3" cy="263.3" r="1.4" fill="#eccd12" stroke="#b89d05" stroke-width="0.5"/>
<circle cx="30.4" cy="263.3" r="1.4" fill="#eccd12" stroke="#b89d05" stroke-width="0.5"/>
<circle cx="25.8" cy="251.8" r="1.4" fill="#eccd12" stroke="#b89d05" stroke-width="0.5"/>
<circle cx="95.4" cy="236.2" r="1.4" fill="#52a062" stroke="#357f45" stroke-width="0.5"/>
<circle cx="100.4" cy="239.9" r="1.4" fill="#52a062" stroke="#357f45" stroke-width="0.5"/>
<circle cx="94.5" cy="246.3" r="1.4" fill="#52a062" stroke="#357f45" stroke-width="0.5"/>
<circle cx="95.4" cy="249.1" r="1.4" fill="#52a062" stroke="#357f45" stroke-width="0.5"/>
<circle cx="93.5" cy="253.7" r="1.4" fill="#52a062" stroke="#357f45" stroke-width="0.5"/>
<circle cx="97.8" cy="254.6" r="1.4" fill="#52a062" stroke="#357f45" stroke-width="0.5"/>
<circle cx="81.6" cy="259.2" r="1.4" fill="#52a062" stroke="#357f45" stroke-width="0.5"/>
<circle cx="98.1" cy="242.6" r="1.4" fill="#eccd12" stroke="#b89d05" stroke-width="0.5"/>
<circle cx="98.7" cy="246.7" r="1.4" fill="#eccd12" stroke="#b89d05" stroke-width="0.5"/>
<circle cx="93.5" cy="251.8" r="1.4" fill="#eccd12" stroke="#b89d05" stroke-width="0.5"/>
<circle cx="96.3" cy="252.4" r="1.4" fill="#eccd12" stroke="#b89d05" stroke-width="0.5"/>
<circle cx="82.5" cy="262.0" r="1.4" fill="#eccd12" stroke="#b89d05" stroke-width="0.5"/>
<circle cx="100.0" cy="242.3" r="1.4" fill="#5577b8" stroke="#34528c" stroke-width="0.5"/>
<circle cx="94.5" cy="245.4" r="1.4" fill="#5577b8" stroke="#34528c" stroke-width="0.5"/>
<circle cx="92.6" cy="260.1" r="1.4" fill="#5577b8" stroke="#34528c" stroke-width="0.5"/>
<circle cx="92.6" cy="263.3" r="1.4" fill="#5577b8" stroke="#34528c" stroke-width="0.5"/>
<circle cx="105.1" cy="264.7" r="1.4" fill="#5577b8" stroke="#34528c" stroke-width="0.5"/>
<circle cx="191.5" cy="233.7" r="1.4" fill="#52a062" stroke="#357f45" stroke-width="0.5"/>
<circle cx="195.4" cy="237.6" r="1.4" fill="#52a062" stroke="#357f45" stroke-width="0.5"/>
<circle cx="197.5" cy="241.3" r="1.4" fill="#52a062" stroke="#357f45" stroke-width="0.5"/>
<circle cx="182.3" cy="244.7" r="1.4" fill="#52a062" stroke="#357f45" stroke-width="0.5"/>
<circle cx="184.9" cy="247.3" r="1.4" fill="#52a062" stroke="#357f45" stroke-width="0.5"/>
<circle cx="202.8" cy="248.1" r="1.4" fill="#52a062" stroke="#357f45" stroke-width="0.5"/>
<circle cx="184.4" cy="252.6" r="1.4" fill="#52a062" stroke="#357f45" stroke-width="0.5"/>
<circle cx="193.3" cy="254.4" r="1.4" fill="#52a062" stroke="#357f45" stroke-width="0.5"/>
<circle cx="166.5" cy="244.7" r="1.4" fill="#52a062" stroke="#357f45" stroke-width="0.5"/>
<circle cx="158.6" cy="257.1" r="1.4" fill="#52a062" stroke="#357f45" stroke-width="0.5"/>
<circle cx="173.1" cy="257.8" r="1.4" fill="#52a062" stroke="#357f45" stroke-width="0.5"/>
<circle cx="207.3" cy="240.8" r="1.4" fill="#eccd12" stroke="#b89d05" stroke-width="0.5"/>
<circle cx="205.9" cy="245.5" r="1.4" fill="#eccd12" stroke="#b89d05" stroke-width="0.5"/>
<circle cx="181.8" cy="250.7" r="1.4" fill="#eccd12" stroke="#b89d05" stroke-width="0.5"/>
<circle cx="187.5" cy="250.0" r="1.4" fill="#eccd12" stroke="#b89d05" stroke-width="0.5"/>
<circle cx="190.7" cy="252.1" r="1.4" fill="#eccd12" stroke="#b89d05" stroke-width="0.5"/>
<circle cx="198.8" cy="250.5" r="1.4" fill="#eccd12" stroke="#b89d05" stroke-width="0.5"/>
<circle cx="165.2" cy="256.0" r="1.4" fill="#eccd12" stroke="#b89d05" stroke-width="0.5"/>
<circle cx="177.6" cy="259.2" r="1.4" fill="#eccd12" stroke="#b89d05" stroke-width="0.5"/>
<circle cx="236.2" cy="261.0" r="1.4" fill="#eccd12" stroke="#b89d05" stroke-width="0.5"/>
<circle cx="200.7" cy="243.9" r="1.4" fill="#5577b8" stroke="#34528c" stroke-width="0.5"/>
<circle cx="201.2" cy="251.3" r="1.4" fill="#5577b8" stroke="#34528c" stroke-width="0.5"/>
<circle cx="192.8" cy="240.8" r="1.4" fill="#5577b8" stroke="#34528c" stroke-width="0.5"/>
<circle cx="162.6" cy="247.3" r="1.4" fill="#5577b8" stroke="#34528c" stroke-width="0.5"/>
<circle cx="171.8" cy="261.8" r="1.4" fill="#5577b8" stroke="#34528c" stroke-width="0.5"/>
<circle cx="191.0" cy="265.0" r="1.4" fill="#5577b8" stroke="#34528c" stroke-width="0.5"/>
<circle cx="250.1" cy="251.8" r="1.4" fill="#5577b8" stroke="#34528c" stroke-width="0.5"/>
<circle cx="265.6" cy="251.3" r="1.4" fill="#5577b8" stroke="#34528c" stroke-width="0.5"/>
<circle cx="267.2" cy="250.0" r="1.4" fill="#5577b8" stroke="#34528c" stroke-width="0.5"/>
<circle cx="258.5" cy="261.3" r="1.4" fill="#5577b8" stroke="#34528c" stroke-width="0.5"/>
<circle cx="208.6" cy="193.4" r="1.4" fill="#5577b8" stroke="#34528c" stroke-width="0.5"/>
<circle cx="213.3" cy="192.1" r="1.4" fill="#eccd12" stroke="#b89d05" stroke-width="0.5"/>
<circle cx="213.3" cy="194.7" r="1.4" fill="#5577b8" stroke="#34528c" stroke-width="0.5"/>
<circle cx="213.3" cy="197.1" r="1.4" fill="#eccd12" stroke="#b89d05" stroke-width="0.5"/>
<circle cx="250.6" cy="200.5" r="1.4" fill="#eccd12" stroke="#b89d05" stroke-width="0.5"/>
<circle cx="251.9" cy="203.1" r="1.4" fill="#52a062" stroke="#357f45" stroke-width="0.5"/>
<circle cx="250.6" cy="208.4" r="1.4" fill="#5577b8" stroke="#34528c" stroke-width="0.5"/>
<circle cx="209.9" cy="215.4" r="1.4" fill="#5577b8" stroke="#34528c" stroke-width="0.5"/>
<circle cx="225.6" cy="214.1" r="1.4" fill="#5577b8" stroke="#34528c" stroke-width="0.5"/>
<circle cx="207.3" cy="223.3" r="1.4" fill="#5577b8" stroke="#34528c" stroke-width="0.5"/>
<circle cx="191.5" cy="233.8" r="1.4" fill="#52a062" stroke="#357f45" stroke-width="0.5"/>
<circle cx="28.2" cy="248.1" r="1.8" fill="#7fae4a"/><circle cx="28.2" cy="248.1" r="3.4" fill="none" stroke="#e21b1b" stroke-width="2.3"/>
<circle cx="193.6" cy="246.6" r="1.8" fill="#e8cc20"/><circle cx="193.6" cy="246.6" r="3.6" fill="none" stroke="#e21b1b" stroke-width="2.5"/>
<text transform="translate(3.9,20.5) scale(1,1.05)" font-size="25" fill="#000">A</text>
<text transform="translate(1.4,178.1) scale(1,1.05)" font-size="25" fill="#000">B</text>
<text transform="translate(319.1,20.4) scale(1,1.05)" font-size="25" fill="#000">C</text>
<text transform="translate(318.7,178.3) scale(1,1.05)" font-size="25" fill="#000">D</text>
<rect x="50.5" y="151.6" width="14.0" height="11.2" fill="#e8e8e8" stroke="#1a1a1a" stroke-width="1.5"/>
<text transform="translate(69.0,161.5) scale(1.000,1.060)" font-size="8.70" text-anchor="start" fill="#2a2a2a" >Resp. Channel</text>
<rect x="158.8" y="152.3" width="13.7" height="11.0" fill="#66b572" stroke="#1a1a1a" stroke-width="1.5"/>
<text transform="translate(177.0,161.7) scale(1.000,1.060)" font-size="8.70" text-anchor="start" fill="#2a2a2a" >Conf. Channel</text>
<rect x="50.5" y="305.8" width="14.0" height="10.6" fill="#6b87c0" stroke="#1a1a1a" stroke-width="1.5"/>
<text transform="translate(69.0,315.3) scale(1.000,1.060)" font-size="8.70" text-anchor="start" fill="#2a2a2a" >EA Channel</text>
<rect x="158.8" y="305.8" width="14.3" height="10.6" fill="#f2d90c" stroke="#1a1a1a" stroke-width="1.5"/>
<text transform="translate(176.9,315.3) scale(1.000,1.060)" font-size="8.70" text-anchor="start" fill="#2a2a2a" >Mixed Channel</text>
<g clip-path="url(#cCL)">
<path d="M380.0,117.7 C380.5,116.4 381.4,111.9 382.9,109.7 C384.4,107.5 386.9,106.1 388.9,104.8 C390.9,103.5 392.8,103.1 394.8,101.8 C396.8,100.5 398.8,98.1 400.8,96.8 C402.8,95.5 405.1,94.2 406.7,93.9 C408.3,93.6 409.3,95.3 410.7,94.9 C412.1,94.5 413.4,92.5 415.0,91.5 C416.6,90.5 418.7,89.8 420.6,88.9 C422.5,88.0 424.9,87.2 426.5,85.9 C428.1,84.6 428.6,82.5 429.9,81.2 C431.2,79.9 432.8,78.6 434.2,78.1 C435.6,77.6 437.0,77.7 438.4,78.4 C439.8,79.2 441.0,81.4 442.6,82.6 C444.2,83.8 446.4,85.4 448.3,85.5 C450.2,85.6 452.4,83.4 454.0,83.3 C455.6,83.2 456.8,84.0 458.2,84.8 C459.6,85.6 461.1,86.4 462.5,88.3 C463.9,90.2 465.3,93.3 466.7,95.9 C468.1,98.5 468.9,101.8 470.7,103.8 C472.5,105.8 475.3,107.4 477.6,107.7 C479.9,108.0 482.8,106.6 484.6,105.8 C486.4,105.0 486.9,102.5 488.5,102.8 C490.1,103.1 492.9,106.5 494.5,107.7 C496.1,108.9 497.3,109.4 497.9,109.7 L497.9,124.6 C497.3,124.3 496.1,123.4 494.5,122.6 C492.9,121.8 490.5,119.7 488.5,119.7 C486.5,119.7 484.9,121.8 482.6,122.6 C480.3,123.4 477.0,124.6 474.7,124.6 C472.4,124.6 470.7,124.1 468.7,122.6 C466.7,121.1 464.8,117.8 462.8,115.7 C460.8,113.6 459.1,110.2 456.8,109.7 C454.5,109.2 451.2,113.0 448.9,112.7 C446.6,112.4 444.7,109.0 442.9,107.7 C441.1,106.4 439.4,105.7 438.0,105.0 C436.6,104.3 436.1,103.3 434.5,103.8 C432.9,104.2 430.5,106.2 428.5,107.7 C426.5,109.2 424.6,111.0 422.6,112.7 C420.6,114.4 418.2,116.4 416.6,117.7 C415.0,119.0 414.7,120.4 412.7,120.6 C410.7,120.8 407.3,118.3 404.7,118.6 C402.1,118.9 399.1,121.6 396.8,122.6 C394.5,123.6 392.9,123.1 390.9,124.6 C388.9,126.1 386.7,129.3 384.9,131.5 C383.1,133.7 380.8,136.5 380.0,137.5 Z" fill="#888888" fill-opacity="0.15"/>
<path d="M380.0,123.6 C380.5,121.9 381.8,116.0 382.9,113.7 C384.0,111.4 385.2,110.9 386.9,109.7 C388.5,108.5 391.1,107.2 392.8,106.8 C394.5,106.3 395.5,106.8 396.8,107.0 C398.1,107.2 399.5,107.9 400.8,107.7 C402.1,107.5 403.4,107.1 404.7,105.8 C406.0,104.5 407.5,102.1 408.7,99.8 C409.9,97.5 410.4,93.6 411.7,91.9 C413.0,90.2 415.3,90.1 416.6,89.4 C417.9,88.8 418.9,88.8 419.6,88.0 C420.3,87.2 420.0,87.4 420.9,84.5 C421.8,81.6 423.5,74.1 424.8,70.6 C426.1,67.1 427.3,65.6 428.8,63.6 C430.3,61.6 432.2,58.9 433.7,58.7 C435.2,58.6 436.4,63.0 437.7,62.7 C439.0,62.4 440.4,58.5 441.7,56.7 C443.0,54.9 444.4,52.0 445.7,51.8 C447.0,51.6 448.2,53.2 449.7,55.5 C451.2,57.8 453.1,64.2 454.6,65.5 C456.1,66.8 457.3,66.9 458.6,63.6 C459.9,60.3 461.3,50.4 462.6,45.5 C463.9,40.6 465.4,35.7 466.6,34.0 C467.8,32.3 468.7,32.4 469.7,35.5 C470.7,38.6 471.5,46.3 472.7,52.8 C473.9,59.3 475.1,69.1 476.6,74.6 C478.1,80.0 480.1,83.8 481.6,85.5 C483.1,87.2 484.3,84.9 485.6,84.5 C486.9,84.1 488.0,82.9 489.5,83.1 C491.0,83.3 493.1,84.6 494.5,85.5 C495.9,86.4 497.3,88.0 497.9,88.5 L497.9,113.7 C496.5,113.0 491.7,109.9 489.5,109.7 C487.3,109.5 486.4,113.4 484.6,112.7 C482.8,112.0 480.2,108.8 478.6,105.8 C477.0,102.8 476.0,98.8 474.7,95.0 C473.4,91.2 471.9,85.6 470.7,83.0 C469.5,80.4 468.5,79.8 467.5,79.5 C466.5,79.2 465.8,80.2 464.5,81.0 C463.2,81.8 461.6,83.7 460.0,84.5 C458.4,85.3 456.7,85.6 455.0,86.0 C453.3,86.4 451.6,86.8 450.0,87.0 C448.4,87.2 447.2,87.1 445.5,87.0 C443.8,86.9 441.5,86.5 440.0,86.5 C438.5,86.5 437.6,86.5 436.4,87.0 C435.1,87.5 433.8,88.0 432.5,89.5 C431.2,91.0 429.8,93.2 428.5,95.9 C427.2,98.6 425.6,102.5 424.5,105.8 C423.4,109.1 422.6,113.2 421.6,115.7 C420.6,118.2 419.8,119.9 418.6,120.6 C417.4,121.2 415.9,119.4 414.6,119.6 C413.3,119.8 412.2,120.3 410.7,121.6 C409.2,122.9 407.3,125.9 405.7,127.6 C404.1,129.2 402.3,131.3 400.8,131.5 C399.3,131.7 398.5,128.8 396.8,128.6 C395.1,128.4 392.9,129.3 390.9,130.5 C388.9,131.7 386.7,134.2 384.9,136.0 C383.1,137.8 380.8,140.5 380.0,141.4 Z" fill="#4a9a5a" fill-opacity="0.17"/>
<path d="M379.9,126.6 C380.7,125.3 383.2,120.3 384.9,118.6 C386.6,116.8 388.4,116.6 389.9,116.1 C391.4,115.6 392.1,116.8 393.8,115.7 C395.5,114.6 397.7,111.5 399.8,109.7 C401.9,107.9 405.1,105.6 406.7,104.8 C408.3,104.0 408.7,104.3 409.7,104.8 C410.7,105.3 411.1,107.5 412.6,107.7 C414.1,107.9 416.5,107.3 418.6,105.8 C420.8,104.3 423.4,100.9 425.5,98.8 C427.6,96.7 429.8,94.4 431.5,92.9 C433.2,91.4 434.4,90.2 435.5,89.9 C436.6,89.6 436.8,89.9 438.0,90.9 C439.2,91.9 441.1,94.4 442.9,95.9 C444.7,97.4 447.1,99.5 448.9,99.8 C450.7,100.1 452.3,98.4 453.8,97.8 C455.3,97.2 456.5,95.2 457.8,95.9 C459.1,96.6 460.3,99.5 461.8,101.8 C463.3,104.1 464.9,107.2 466.7,109.7 C468.5,112.2 470.9,115.4 472.7,116.7 C474.5,118.0 475.8,118.2 477.6,117.7 C479.4,117.2 481.8,115.0 483.6,113.7 C485.4,112.4 487.0,109.5 488.5,109.7 C490.0,109.9 490.9,113.0 492.5,114.7 C494.1,116.4 497.0,119.1 497.9,120.0" fill="none" stroke="#7a7a7a" stroke-width="1.5" stroke-linejoin="round" stroke-linecap="round"/>
<path d="M379.9,131.9 C380.6,130.8 382.4,127.8 383.9,125.6 C385.4,123.4 387.4,120.1 388.9,118.6 C390.4,117.1 391.6,116.9 392.8,116.7 C394.0,116.5 394.7,116.9 395.8,117.3 C396.9,117.7 398.1,119.5 399.4,119.2 C400.7,118.9 402.1,117.0 403.7,115.7 C405.2,114.5 407.0,113.5 408.7,111.7 C410.4,109.9 412.5,106.1 413.6,104.8 C414.8,103.5 414.6,103.7 415.6,103.8 C416.6,103.9 418.4,106.7 419.6,105.4 C420.8,104.1 421.5,99.3 422.6,95.9 C423.8,92.5 425.0,88.4 426.5,85.0 C428.0,81.6 430.2,77.8 431.5,75.6 C432.8,73.4 433.4,71.8 434.4,71.6 C435.4,71.4 436.6,73.8 437.4,74.6 C438.2,75.3 438.6,76.6 439.4,76.1 C440.2,75.6 441.3,72.8 442.4,71.6 C443.4,70.4 444.5,69.0 445.7,69.2 C446.9,69.4 448.0,71.2 449.3,73.0 C450.6,74.8 452.3,78.7 453.3,80.1 C454.3,81.5 454.3,82.2 455.3,81.5 C456.3,80.8 457.7,78.7 459.2,75.6 C460.7,72.5 462.8,65.8 464.2,62.7 C465.6,59.6 466.4,57.0 467.5,56.7 C468.6,56.4 470.0,58.1 471.1,60.7 C472.2,63.4 473.1,68.0 474.1,72.6 C475.1,77.1 476.2,84.1 477.0,88.0 C477.8,91.9 478.2,93.7 479.0,95.9 C479.8,98.1 480.8,100.6 482.0,101.3 C483.2,102.0 484.8,100.5 486.0,100.0 C487.2,99.5 487.9,98.4 489.0,98.2 C490.1,98.0 491.4,98.4 492.9,98.8 C494.4,99.2 497.1,100.1 497.9,100.4" fill="none" stroke="#1f8a3c" stroke-width="1.6" stroke-linejoin="round" stroke-linecap="round"/>
</g>
<line x1="438.9" y1="28.2" x2="438.9" y2="147" stroke="#555" stroke-width="1.4" stroke-dasharray="2.8,1.6"/>
<path d="M374.7,27 V147.7" fill="none" stroke="#222" stroke-width="1.2"/><path d="M374.1,147.7 H503.7" fill="none" stroke="#4a4a4a" stroke-width="1.6"/>
<path d="M442.5,10.0 L434.1,18.4 L437.2,19.2 L435.0,24.8 L437.2,25.5 L439.5,20.7 L441.7,22.3 Z" fill="#000"/><line x1="433.1" y1="10.8" x2="438.7" y2="10.8" stroke="#9a9a9a" stroke-width="1"/><line x1="430.0" y1="13.8" x2="435.3" y2="13.8" stroke="#b0b0b0" stroke-width="1"/><line x1="428.0" y1="17.3" x2="434.5" y2="17.3" stroke="#555" stroke-width="1"/><line x1="429.3" y1="21.5" x2="435.0" y2="21.5" stroke="#777" stroke-width="1"/>
<text transform="translate(434.8,6.8) scale(1.000,1.120)" font-size="8.40" text-anchor="middle" fill="#222" >OFC</text>
<text transform="translate(368.3,52.4) scale(1.000,1.120)" font-size="8.60" text-anchor="end" fill="#222" >1.3</text>
<text transform="translate(368.3,78.1) scale(1.000,1.120)" font-size="8.60" text-anchor="end" fill="#222" >1.2</text>
<text transform="translate(368.3,103.4) scale(1.000,1.120)" font-size="8.60" text-anchor="end" fill="#222" >1.1</text>
<text transform="translate(368.3,129.0) scale(1.000,1.120)" font-size="8.60" text-anchor="end" fill="#222" >1</text>
<text transform="translate(391.2,158.1) scale(1.000,1.120)" font-size="8.60" text-anchor="middle" fill="#222" >-0.4</text>
<text transform="translate(414.8,158.1) scale(1.000,1.120)" font-size="8.60" text-anchor="middle" fill="#222" >-0.2</text>
<text transform="translate(438.7,158.1) scale(1.000,1.120)" font-size="8.60" text-anchor="middle" fill="#222" >0</text>
<text transform="translate(461.0,158.1) scale(1.000,1.120)" font-size="8.60" text-anchor="middle" fill="#222" >0.2</text>
<text transform="translate(484.4,158.1) scale(1.000,1.120)" font-size="8.60" text-anchor="middle" fill="#222" >0.4</text>
<text transform="translate(441.0,168.6) scale(1.000,1.120)" font-size="8.50" text-anchor="middle" fill="#222" >Time (s)</text>
<text transform="translate(351.8,88.9) rotate(-90) scale(1,1.08)" font-size="8.7" text-anchor="middle" fill="#222">Mean High-Gamma</text>
<rect x="446" y="123" width="52" height="21" fill="#fff"/>
<rect x="447.8" y="125.4" width="8.4" height="5.8" fill="#1f8a3c" stroke="#1a1a1a" stroke-width="1.0"/>
<rect x="447.8" y="135.4" width="8.4" height="6.3" fill="#7d7d7d" stroke="#1a1a1a" stroke-width="1.0"/>
<text transform="translate(457.3,131.0) scale(1.000,1.120)" font-size="8.60" text-anchor="start" fill="#222" >High Conf</text>
<text transform="translate(457.3,141.2) scale(1.000,1.120)" font-size="8.60" text-anchor="start" fill="#222" >Low Conf</text>
<g clip-path="url(#cCR)">
<path d="M563.7,92.8 C564.5,93.9 566.5,98.9 568.2,99.6 C569.9,100.3 571.9,97.8 574.0,97.0 C576.1,96.2 578.8,94.3 580.6,95.1 C582.4,95.9 583.5,99.7 585.0,102.0 C586.5,104.3 588.0,109.3 589.7,108.7 C591.4,108.1 593.5,103.0 595.4,98.5 C597.3,94.0 599.3,84.9 601.0,81.5 C602.7,78.1 604.1,77.9 605.6,78.1 C607.1,78.3 608.5,82.3 610.1,82.6 C611.7,82.9 613.1,81.5 615.0,80.0 C616.9,78.5 619.0,76.2 621.4,73.6 C623.8,71.0 627.0,65.2 629.3,64.6 C631.6,64.0 632.9,68.3 635.0,70.2 C637.1,72.1 639.6,74.1 642.0,76.0 C644.4,77.9 646.5,79.9 649.1,81.5 C651.7,83.1 655.0,87.0 657.6,85.8 C660.2,84.6 662.4,76.1 664.6,74.5 C666.8,72.9 668.5,77.2 671.0,76.0 C673.5,74.8 678.2,68.8 679.6,67.4 L679.6,105.6 C677.4,105.8 669.8,105.8 666.1,107.0 C662.4,108.2 660.4,112.1 657.6,112.6 C654.8,113.1 651.9,111.0 649.1,109.8 C646.3,108.6 643.9,107.0 640.6,105.6 C637.3,104.2 632.5,101.3 629.3,101.3 C626.1,101.2 623.5,103.7 621.4,105.3 C619.3,106.9 618.4,109.5 616.9,111.0 C615.4,112.5 614.1,114.4 612.4,114.4 C610.7,114.4 608.8,111.0 606.7,111.0 C604.6,111.0 602.0,111.2 599.9,114.4 C597.8,117.6 596.3,126.8 594.2,130.2 C592.1,133.6 589.9,135.6 587.4,134.7 C584.9,133.8 582.1,126.1 579.5,124.6 C576.9,123.1 574.2,124.4 571.6,125.7 C569.0,127.0 565.0,131.4 563.7,132.5 Z" fill="#888888" fill-opacity="0.15"/>
<path d="M563.7,100.8 C564.6,98.9 567.4,93.4 569.3,89.4 C571.2,85.4 573.1,79.5 575.0,77.0 C576.9,74.5 578.5,75.3 580.6,74.7 C582.7,74.1 585.1,73.5 587.4,73.6 C589.7,73.7 592.1,76.2 594.2,75.4 C596.3,74.7 598.0,70.3 599.9,69.1 C601.8,67.8 603.5,68.9 605.6,67.9 C607.7,67.0 610.3,64.9 612.4,63.4 C614.5,61.9 615.6,59.4 618.0,58.9 C620.4,58.4 624.1,60.5 626.5,60.3 C628.9,60.1 630.2,57.5 632.1,57.5 C634.0,57.5 635.9,60.5 637.8,60.3 C639.7,60.1 641.5,59.1 643.4,56.1 C645.3,53.1 647.2,45.8 649.1,42.0 C651.0,38.2 652.9,34.2 654.8,33.5 C656.7,32.8 658.5,34.9 660.4,37.7 C662.3,40.5 664.0,46.9 666.1,50.4 C668.2,53.9 670.9,57.0 673.1,58.9 C675.4,60.8 678.5,61.3 679.6,61.8 L679.6,96.7 C678.0,95.6 673.0,92.9 670.3,90.0 C667.6,87.1 665.3,82.8 663.2,79.5 C661.1,76.2 659.5,72.0 657.6,70.1 C655.7,68.2 653.9,67.5 651.9,68.2 C649.9,68.9 647.6,72.1 645.7,74.1 C643.8,76.1 642.9,78.9 640.6,80.1 C638.3,81.3 634.7,80.7 632.1,81.5 C629.5,82.3 627.4,84.3 625.0,85.0 C622.6,85.7 620.1,85.5 618.0,85.8 C615.9,86.1 614.5,86.1 612.4,86.8 C610.3,87.5 607.7,88.7 605.6,90.2 C603.5,91.7 601.4,93.7 599.9,96.0 C598.4,98.3 597.8,102.4 596.5,104.3 C595.2,106.2 593.5,107.3 592.0,107.5 C590.5,107.7 588.9,106.0 587.4,105.3 C585.9,104.5 584.5,103.4 583.0,103.0 C581.5,102.6 579.9,101.3 578.4,102.8 C576.9,104.3 575.6,108.2 573.9,112.1 C572.2,116.0 569.7,122.2 568.0,126.0 C566.3,129.8 564.4,133.2 563.7,134.7 Z" fill="#4a9a5a" fill-opacity="0.17"/>
<path d="M563.4,106.8 C563.8,107.3 565.0,108.1 565.9,109.8 C566.8,111.5 567.9,115.9 568.9,116.7 C569.9,117.5 570.7,115.2 571.9,114.7 C573.1,114.2 574.4,114.2 575.9,113.7 C577.4,113.2 579.1,111.1 580.8,111.8 C582.4,112.5 584.3,116.0 585.8,117.7 C587.3,119.5 588.4,122.8 589.7,122.3 C591.0,121.8 592.2,118.8 593.7,114.7 C595.2,110.6 597.2,101.5 598.7,97.9 C600.2,94.3 601.5,93.4 602.6,92.9 C603.8,92.4 604.3,94.1 605.6,94.9 C606.9,95.7 609.1,97.1 610.6,97.9 C612.1,98.7 613.3,100.3 614.6,99.8 C615.9,99.3 617.4,96.4 618.5,94.9 C619.6,93.4 620.3,91.4 621.5,90.9 C622.7,90.4 624.2,92.4 625.5,91.9 C626.8,91.4 628.2,89.6 629.4,87.9 C630.6,86.2 631.6,82.7 632.8,82.0 C634.0,81.3 635.0,83.0 636.4,84.0 C637.8,85.0 639.8,87.7 641.3,87.9 C642.8,88.1 643.8,84.5 645.3,85.0 C646.8,85.5 648.8,88.9 650.3,90.9 C651.8,92.9 652.6,95.9 654.2,96.9 C655.9,97.9 658.4,97.7 660.2,96.9 C662.0,96.1 663.6,93.1 665.2,91.9 C666.9,90.7 668.3,90.9 670.1,89.9 C671.9,88.9 674.8,86.2 676.1,86.0 C677.4,85.8 677.4,87.8 678.0,88.5 C678.6,89.2 679.3,89.8 679.6,90.0" fill="none" stroke="#7a7a7a" stroke-width="1.5" stroke-linejoin="round" stroke-linecap="round"/>
<path d="M563.4,119.7 C563.8,119.0 565.0,117.0 565.9,115.7 C566.8,114.4 567.7,114.1 568.9,111.8 C570.1,109.5 571.6,105.1 572.9,101.8 C574.2,98.5 575.6,94.1 576.8,91.9 C577.9,89.8 578.6,89.3 579.8,88.9 C581.0,88.5 582.5,89.5 583.8,89.5 C585.1,89.5 586.6,88.7 587.8,88.9 C588.9,89.1 589.7,90.2 590.7,90.9 C591.7,91.6 592.4,93.4 593.7,92.9 C595.0,92.4 597.1,88.9 598.7,87.9 C600.4,86.9 602.1,87.9 603.6,87.0 C605.1,86.1 606.3,83.9 607.6,82.6 C608.9,81.3 610.1,79.8 611.6,79.0 C613.1,78.2 615.0,78.0 616.5,77.6 C618.0,77.2 619.2,76.5 620.5,76.6 C621.8,76.7 623.2,78.4 624.5,78.2 C625.8,78.0 627.1,76.4 628.4,75.6 C629.7,74.8 630.9,73.6 632.4,73.6 C633.9,73.6 635.8,76.1 637.4,75.6 C639.0,75.1 640.6,73.5 642.3,70.7 C643.9,67.9 645.8,61.6 647.3,58.8 C648.8,56.0 649.9,55.3 651.3,53.8 C652.7,52.3 654.1,49.6 655.6,49.8 C657.1,50.0 658.6,52.6 660.2,54.8 C661.8,56.9 663.7,60.4 665.2,62.7 C666.7,65.0 667.6,66.7 669.1,68.7 C670.6,70.7 672.8,73.4 674.1,74.6 C675.4,75.8 676.2,74.3 677.1,75.6 C678.0,76.9 679.2,81.4 679.6,82.6" fill="none" stroke="#1f8a3c" stroke-width="1.6" stroke-linejoin="round" stroke-linecap="round"/>
</g>
<line x1="621.3" y1="28.6" x2="621.3" y2="147" stroke="#555" stroke-width="1.4" stroke-dasharray="2.8,1.6"/>
<path d="M557.6,27.2 V147.8" fill="none" stroke="#222" stroke-width="1.2"/><path d="M557,147.8 H685" fill="none" stroke="#4a4a4a" stroke-width="1.6"/>
<path d="M625.5,9.8 L617.1,18.2 L620.2,19.0 L618.0,24.6 L620.2,25.3 L622.5,20.5 L624.7,22.1 Z" fill="#000"/><line x1="616.1" y1="10.6" x2="621.7" y2="10.6" stroke="#9a9a9a" stroke-width="1"/><line x1="613.0" y1="13.6" x2="618.3" y2="13.6" stroke="#b0b0b0" stroke-width="1"/><line x1="611.0" y1="17.1" x2="617.5" y2="17.1" stroke="#555" stroke-width="1"/><line x1="612.3" y1="21.3" x2="618.0" y2="21.3" stroke="#777" stroke-width="1"/>
<text transform="translate(614.2,6.6) scale(1.000,1.120)" font-size="8.30" text-anchor="middle" fill="#222" >Insula</text>
<text transform="translate(551.0,46.0) scale(1.000,1.120)" font-size="8.60" text-anchor="end" fill="#222" >1.20</text>
<text transform="translate(551.0,82.3) scale(1.000,1.120)" font-size="8.60" text-anchor="end" fill="#222" >1.10</text>
<text transform="translate(551.0,118.2) scale(1.000,1.120)" font-size="8.60" text-anchor="end" fill="#222" >1.00</text>
<text transform="translate(574.0,158.1) scale(1.000,1.120)" font-size="8.60" text-anchor="middle" fill="#222" >-0.4</text>
<text transform="translate(597.1,158.1) scale(1.000,1.120)" font-size="8.60" text-anchor="middle" fill="#222" >-0.2</text>
<text transform="translate(620.8,158.1) scale(1.000,1.120)" font-size="8.60" text-anchor="middle" fill="#222" >0</text>
<text transform="translate(643.6,158.1) scale(1.000,1.120)" font-size="8.60" text-anchor="middle" fill="#222" >0.2</text>
<text transform="translate(666.6,158.1) scale(1.000,1.120)" font-size="8.60" text-anchor="middle" fill="#222" >0.4</text>
<text transform="translate(622.8,168.6) scale(1.000,1.120)" font-size="8.50" text-anchor="middle" fill="#222" >Time (s)</text>
<text transform="translate(529.7,89.4) rotate(-90) scale(1,1.08)" font-size="8.7" text-anchor="middle" fill="#222">Mean High-Gamma</text>
<rect x="623" y="123" width="52" height="21" fill="#fff"/>
<rect x="624.6" y="125.6" width="8.2" height="5.8" fill="#1f8a3c" stroke="#1a1a1a" stroke-width="1.0"/>
<rect x="624.6" y="135.9" width="8.2" height="5.6" fill="#7d7d7d" stroke="#1a1a1a" stroke-width="1.0"/>
<text transform="translate(633.9,131.0) scale(1.000,1.120)" font-size="8.60" text-anchor="start" fill="#222" >High Conf</text>
<text transform="translate(633.9,141.2) scale(1.000,1.120)" font-size="8.60" text-anchor="start" fill="#222" >Low Conf</text>
<g clip-path="url(#cDL)">
<path d="M395.1,259.1 C396.0,258.6 398.8,255.2 400.4,255.9 C402.0,256.6 403.3,260.7 404.7,263.4 C406.1,266.1 407.5,271.0 408.9,271.9 C410.3,272.8 411.9,270.6 413.2,268.7 C414.4,266.8 415.2,262.1 416.4,260.2 C417.6,258.2 419.0,257.0 420.6,257.0 C422.2,257.0 424.1,259.0 425.9,260.2 C427.7,261.4 429.4,263.5 431.2,264.4 C433.0,265.3 434.7,266.4 436.5,265.5 C438.3,264.6 440.1,261.9 441.9,259.1 C443.7,256.3 445.6,250.8 447.2,248.5 C448.8,246.2 449.8,246.2 451.4,245.3 C453.0,244.4 454.8,243.2 456.7,243.0 C458.6,242.8 460.7,243.7 463.0,244.0 C465.3,244.3 468.0,244.3 470.3,244.6 C472.6,244.9 474.1,246.0 476.7,245.8 C479.2,245.6 482.9,245.0 485.6,243.3 C488.4,241.6 491.1,237.2 493.2,235.7 C495.3,234.2 496.2,233.8 498.3,234.4 C500.4,235.0 503.3,238.0 505.9,239.5 C508.4,241.0 510.9,243.1 513.6,243.3 C516.3,243.5 520.6,241.2 522.0,240.8 L522.0,275.1 C520.4,275.8 514.8,279.6 512.3,279.0 C509.8,278.4 509.1,274.3 507.2,271.3 C505.3,268.3 503.1,262.8 500.8,261.1 C498.5,259.4 495.7,259.8 493.2,261.1 C490.7,262.4 488.2,266.9 485.6,268.8 C483.1,270.7 480.2,270.5 477.9,272.6 C475.6,274.7 474.2,281.7 471.6,281.5 C469.1,281.3 464.9,273.9 462.6,271.3 C460.3,268.7 459.5,266.6 457.8,266.0 C456.1,265.4 454.3,266.0 452.5,267.5 C450.7,269.0 449.0,272.1 447.2,275.0 C445.4,277.9 443.7,281.9 441.9,284.6 C440.1,287.3 438.3,290.1 436.5,291.0 C434.7,291.9 433.1,291.0 431.2,289.9 C429.3,288.8 426.8,285.0 424.9,284.6 C423.0,284.2 421.4,285.7 419.6,287.8 C417.8,289.9 416.1,295.2 414.2,297.3 C412.2,299.4 410.0,300.7 407.9,300.5 C405.8,300.3 403.6,297.7 401.5,296.3 C399.4,294.9 396.2,292.7 395.1,292.0 Z" fill="#888888" fill-opacity="0.15"/>
<path d="M395.1,274.0 C396.2,273.6 399.4,270.8 401.5,271.9 C403.6,273.0 405.8,279.0 407.9,280.4 C410.0,281.8 412.1,281.3 414.2,280.4 C416.3,279.5 418.5,276.4 420.6,275.0 C422.7,273.6 425.1,273.5 427.0,271.9 C428.9,270.3 430.5,267.4 432.3,265.5 C434.1,263.6 435.7,261.8 437.6,260.2 C439.6,258.6 442.1,257.5 444.0,255.9 C445.9,254.3 447.5,252.2 449.3,250.6 C451.1,248.9 453.2,248.1 455.0,246.0 C456.8,243.9 458.2,241.8 460.1,238.2 C462.0,234.6 464.4,226.9 466.5,224.2 C468.6,221.4 470.7,222.5 472.8,221.7 C474.9,220.8 477.1,218.5 479.2,219.1 C481.3,219.7 483.7,223.8 485.6,225.5 C487.5,227.2 489.2,230.8 490.7,229.3 C492.2,227.8 493.0,218.9 494.5,216.6 C496.0,214.3 498.1,215.1 499.6,215.3 C501.1,215.5 502.1,216.1 503.4,217.8 C504.7,219.5 505.7,224.7 507.2,225.5 C508.7,226.3 510.6,223.5 512.3,222.9 C514.0,222.3 515.8,222.1 517.4,221.7 C519.0,221.3 521.2,220.6 522.0,220.4 L522.0,245.8 C520.8,246.0 517.1,246.2 514.9,247.1 C512.6,247.9 510.6,251.5 508.5,250.9 C506.4,250.3 504.0,244.4 502.1,243.3 C500.2,242.2 498.7,242.7 497.0,244.6 C495.3,246.5 493.6,253.1 491.9,254.8 C490.2,256.5 488.7,255.5 486.8,254.8 C484.9,254.2 482.8,250.9 480.5,250.9 C478.2,250.9 475.4,253.5 472.8,254.8 C470.2,256.1 467.3,256.2 465.2,258.6 C463.1,261.0 461.9,266.7 460.1,269.3 C458.3,271.9 456.4,273.2 454.6,274.0 C452.8,274.8 451.1,273.1 449.3,274.0 C447.5,274.9 445.9,277.7 444.0,279.3 C442.1,280.9 439.6,281.7 437.6,283.5 C435.7,285.3 434.1,287.6 432.3,289.9 C430.5,292.2 428.9,295.7 427.0,297.3 C425.1,298.9 422.7,298.1 420.6,299.5 C418.5,300.9 416.3,304.4 414.2,305.8 C412.1,307.2 410.0,308.5 407.9,308.0 C405.8,307.5 403.6,303.8 401.5,302.7 C399.4,301.6 396.2,301.8 395.1,301.6 Z" fill="#3e6db8" fill-opacity="0.14"/>
<path d="M395.0,274.8 C395.5,274.6 397.0,272.6 398.0,273.4 C399.0,274.2 399.8,277.2 400.9,279.7 C402.0,282.2 403.6,286.6 404.9,288.6 C406.2,290.6 407.6,291.3 408.9,291.6 C410.2,291.9 411.6,292.1 412.8,290.6 C414.0,289.1 414.5,286.0 415.8,282.7 C417.1,279.4 419.1,272.4 420.7,270.8 C422.3,269.2 424.2,271.5 425.7,272.8 C427.2,274.1 428.4,277.6 429.7,278.7 C431.0,279.8 432.1,278.9 433.6,279.7 C435.1,280.5 437.0,284.5 438.6,283.7 C440.2,282.9 441.9,278.3 443.5,274.8 C445.1,271.3 447.0,266.0 448.5,262.9 C450.0,259.8 451.0,257.2 452.5,255.9 C454.0,254.6 455.8,254.7 457.4,255.0 C459.0,255.3 460.8,256.1 462.4,257.9 C464.0,259.7 465.6,263.2 467.3,265.9 C469.0,268.5 470.8,273.8 472.3,273.8 C473.8,273.8 474.9,268.0 476.2,265.9 C477.5,263.8 478.9,262.1 480.2,260.9 C481.5,259.7 482.9,259.7 484.2,258.9 C485.5,258.1 486.8,257.4 488.1,255.9 C489.4,254.4 490.8,251.5 492.1,250.0 C493.4,248.5 494.6,247.2 496.1,246.9 C497.6,246.6 499.5,247.5 501.0,248.1 C502.5,248.7 503.7,248.8 505.0,250.5 C506.3,252.2 507.8,256.1 508.9,258.4 C510.0,260.7 510.7,263.6 511.9,264.4 C513.1,265.2 514.6,264.0 515.9,263.4 C517.1,262.8 518.5,261.4 519.4,260.8 C520.3,260.2 521.0,260.0 521.3,259.8" fill="none" stroke="#7a7a7a" stroke-width="1.5" stroke-linejoin="round" stroke-linecap="round"/>
<path d="M395.0,287.7 C395.8,287.2 398.4,284.4 399.9,284.7 C401.4,285.0 402.7,287.5 403.9,289.6 C405.1,291.8 405.9,296.6 406.9,297.6 C407.9,298.6 408.8,296.3 409.8,295.6 C410.8,294.9 411.8,294.4 412.8,293.2 C413.8,292.0 414.8,289.8 415.8,288.6 C416.8,287.4 417.3,286.1 418.8,286.1 C420.3,286.1 422.9,289.5 424.7,288.6 C426.5,287.7 428.0,282.8 429.7,280.7 C431.4,278.6 433.0,276.9 434.6,275.8 C436.2,274.7 438.0,275.2 439.6,274.2 C441.2,273.2 442.9,272.0 444.5,269.8 C446.1,267.6 448.2,261.5 449.5,260.9 C450.8,260.2 451.7,264.7 452.5,265.9 C453.3,267.1 453.6,268.9 454.4,268.2 C455.2,267.5 456.4,264.2 457.4,261.9 C458.4,259.6 459.2,257.1 460.4,254.5 C461.5,251.9 462.8,249.0 464.3,246.5 C465.8,244.0 467.8,240.2 469.3,239.6 C470.8,238.9 471.8,242.8 473.3,242.6 C474.8,242.4 476.6,238.9 478.2,238.6 C479.8,238.3 481.4,239.8 483.2,241.0 C485.0,242.2 487.6,245.9 489.1,245.5 C490.6,245.1 491.1,240.7 492.1,238.6 C493.1,236.5 494.1,233.8 495.1,232.7 C496.1,231.6 496.9,232.7 498.0,232.3 C499.1,231.9 500.4,229.6 501.6,230.3 C502.8,231.0 503.8,234.1 505.0,236.6 C506.2,239.1 507.8,244.8 508.9,245.5 C510.0,246.2 510.7,241.8 511.9,240.6 C513.1,239.4 514.6,238.8 515.9,238.2 C517.1,237.6 518.5,237.3 519.4,237.0 C520.3,236.7 521.0,236.7 521.3,236.6" fill="none" stroke="#4672bb" stroke-width="1.6" stroke-linejoin="round" stroke-linecap="round"/>
</g>
<line x1="414.4" y1="197" x2="414.4" y2="316" stroke="#444" stroke-width="1.3" stroke-dasharray="2.8,1.4"/>
<path d="M393.6,196.5 V316.4" fill="none" stroke="#222" stroke-width="1.2"/><path d="M393,316.4 H521" fill="none" stroke="#4a4a4a" stroke-width="1.4"/>
<line x1="521" y1="316.3" x2="542" y2="316.3" stroke="#444" stroke-width="1" stroke-dasharray="1.5,1.2"/>
<g><line x1="407.6" y1="178" x2="413.8" y2="178" stroke="#b5b5b5" stroke-width="1.7"/><line x1="415.1" y1="178" x2="420.6" y2="178" stroke="#b5b5b5" stroke-width="1.7"/><circle cx="407.8" cy="178" r="1.15" fill="#111"/><circle cx="420.6" cy="178" r="1.15" fill="#111"/><circle cx="414.2" cy="186.8" r="7.3" fill="#fff" stroke="#1e1e1e" stroke-width="1.3"/><circle cx="414.2" cy="186.8" r="5.5" fill="none" stroke="#aaa" stroke-width="0.6"/><path d="M411,184.5 q2,-2.5 3.5,-1.5 M415.5,183.5 q2,1 1.5,3.5 M410.5,188.5 q1,2.5 3.5,2.5 M416.5,189 q-0.5,2 -2.5,2.5" fill="none" stroke="#555" stroke-width="0.7"/><circle cx="412.6" cy="188.2" r="1.3" fill="#111"/><circle cx="414.5" cy="183" r="0.8" fill="#333"/><circle cx="416.3" cy="187.6" r="0.9" fill="#333"/><circle cx="411.2" cy="185.3" r="0.6" fill="#666"/><circle cx="413.6" cy="191" r="0.6" fill="#666"/></g>
<text transform="translate(387.7,214.9) scale(1.000,1.120)" font-size="8.60" text-anchor="end" fill="#222" >1.20</text>
<text transform="translate(387.7,251.0) scale(1.000,1.120)" font-size="8.60" text-anchor="end" fill="#222" >1.10</text>
<text transform="translate(387.7,287.1) scale(1.000,1.120)" font-size="8.60" text-anchor="end" fill="#222" >1.00</text>
<text transform="translate(392.1,327.2) scale(1.000,1.120)" font-size="8.60" text-anchor="middle" fill="#222" >-0.2</text>
<text transform="translate(413.9,327.2) scale(1.000,1.120)" font-size="8.60" text-anchor="middle" fill="#222" >0</text>
<text transform="translate(434.9,327.2) scale(1.000,1.120)" font-size="8.60" text-anchor="middle" fill="#222" >0.2</text>
<text transform="translate(455.9,327.2) scale(1.000,1.120)" font-size="8.60" text-anchor="middle" fill="#222" >0.4</text>
<text transform="translate(476.9,327.2) scale(1.000,1.120)" font-size="8.60" text-anchor="middle" fill="#222" >0.6</text>
<text transform="translate(498.0,327.2) scale(1.000,1.120)" font-size="8.60" text-anchor="middle" fill="#222" >0.8</text>
<text transform="translate(519.7,327.2) scale(1.000,1.120)" font-size="8.60" text-anchor="middle" fill="#222" >1</text>
<text transform="translate(458.8,337.5) scale(1.000,1.120)" font-size="8.50" text-anchor="middle" fill="#222" >Time (s)</text>
<text transform="translate(367.4,261.9) rotate(-90) scale(1,1.08)" font-size="8.7" text-anchor="middle" fill="#222">Mean High-Gamma</text>
<rect x="447" y="289" width="78" height="25" fill="#fff"/>
<rect x="448.8" y="292.2" width="9.6" height="7.2" fill="#3e6db8" stroke="#1a1a1a" stroke-width="1.0"/>
<rect x="448.8" y="305.3" width="9.6" height="6.8" fill="#7d7d7d" stroke="#1a1a1a" stroke-width="1.0"/>
<text transform="translate(459.6,299.0) scale(1.000,1.120)" font-size="8.60" text-anchor="start" fill="#222" >Short Dec. TImes</text>
<text transform="translate(459.6,310.8) scale(1.000,1.120)" font-size="8.60" text-anchor="start" fill="#222" >Long Dec. TImes</text>
<g clip-path="url(#cDR)">
<path d="M548.5,261.1 C549.2,262.2 551.3,267.2 553.0,267.9 C554.7,268.6 556.7,266.1 558.8,265.3 C560.9,264.6 563.6,262.6 565.4,263.4 C567.2,264.2 568.3,268.0 569.8,270.3 C571.3,272.6 572.8,277.6 574.5,277.0 C576.2,276.4 578.3,271.3 580.2,266.8 C582.1,262.3 584.1,253.2 585.8,249.8 C587.5,246.4 588.9,246.2 590.4,246.4 C591.9,246.6 593.3,250.6 594.9,250.9 C596.5,251.2 597.9,249.8 599.8,248.3 C601.7,246.8 603.8,244.5 606.2,241.9 C608.6,239.3 611.8,233.5 614.1,232.9 C616.4,232.3 617.7,236.6 619.8,238.5 C621.9,240.4 624.4,242.4 626.8,244.3 C629.1,246.2 631.3,248.2 633.9,249.8 C636.5,251.4 639.8,255.3 642.4,254.1 C645.0,252.9 647.2,244.4 649.4,242.8 C651.6,241.2 653.3,245.5 655.8,244.3 C658.3,243.1 663.0,237.1 664.4,235.7 L664.4,273.9 C662.1,274.1 654.6,274.1 650.9,275.3 C647.2,276.5 645.2,280.4 642.4,280.9 C639.6,281.4 636.7,279.3 633.9,278.1 C631.1,276.9 628.7,275.3 625.4,273.9 C622.1,272.5 617.3,269.7 614.1,269.6 C610.9,269.6 608.3,272.0 606.2,273.6 C604.1,275.2 603.2,277.8 601.7,279.3 C600.2,280.8 598.9,282.7 597.2,282.7 C595.5,282.7 593.6,279.3 591.5,279.3 C589.4,279.3 586.8,279.5 584.7,282.7 C582.6,285.9 581.1,295.1 579.0,298.5 C576.9,301.9 574.6,303.9 572.2,303.0 C569.7,302.1 566.9,294.4 564.3,292.9 C561.7,291.4 559.0,292.7 556.4,294.0 C553.8,295.3 549.8,299.7 548.5,300.8 Z" fill="#888888" fill-opacity="0.15"/>
<path d="M548.5,269.1 C549.4,267.2 552.2,261.7 554.1,257.7 C556.0,253.7 557.9,247.8 559.8,245.3 C561.7,242.8 563.3,243.6 565.4,243.0 C567.5,242.4 569.9,241.8 572.2,241.9 C574.5,242.0 576.9,244.5 579.0,243.7 C581.1,243.0 582.8,238.7 584.7,237.4 C586.6,236.2 588.3,237.2 590.4,236.2 C592.5,235.3 595.1,233.2 597.2,231.7 C599.3,230.2 600.4,227.7 602.8,227.2 C605.1,226.7 608.9,228.8 611.3,228.6 C613.6,228.4 615.0,225.8 616.9,225.8 C618.8,225.8 620.7,228.8 622.6,228.6 C624.5,228.4 626.3,227.5 628.2,224.4 C630.1,221.3 632.0,214.1 633.9,210.3 C635.8,206.5 637.7,202.5 639.6,201.8 C641.5,201.1 643.3,203.2 645.2,206.0 C647.1,208.8 648.8,215.2 650.9,218.7 C653.0,222.2 655.6,225.3 657.9,227.2 C660.1,229.1 663.3,229.6 664.4,230.1 L664.4,265.0 C662.8,263.9 657.8,261.2 655.1,258.3 C652.4,255.4 650.1,251.1 648.0,247.8 C645.9,244.5 644.3,240.3 642.4,238.4 C640.5,236.5 638.7,235.8 636.7,236.5 C634.7,237.2 632.4,240.4 630.5,242.4 C628.6,244.4 627.7,247.2 625.4,248.4 C623.1,249.6 619.5,249.0 616.9,249.8 C614.3,250.6 612.1,252.6 609.8,253.3 C607.4,254.0 604.9,253.8 602.8,254.1 C600.7,254.4 599.3,254.4 597.2,255.1 C595.1,255.8 592.5,257.0 590.4,258.5 C588.3,260.0 586.2,261.9 584.7,264.3 C583.2,266.7 582.6,270.7 581.3,272.6 C580.0,274.5 578.3,275.6 576.8,275.8 C575.3,276.0 573.7,274.4 572.2,273.6 C570.7,272.9 569.3,271.7 567.8,271.3 C566.3,270.9 564.7,269.6 563.2,271.1 C561.7,272.6 560.4,276.5 558.7,280.4 C557.0,284.3 554.5,290.5 552.8,294.3 C551.1,298.1 549.2,301.6 548.5,303.0 Z" fill="#4a9a5a" fill-opacity="0.17"/>
<path d="M548.2,275.1 C548.6,275.6 549.8,276.5 550.7,278.1 C551.6,279.8 552.7,284.2 553.7,285.0 C554.7,285.8 555.5,283.5 556.7,283.0 C557.9,282.5 559.2,282.5 560.7,282.0 C562.2,281.5 563.9,279.4 565.6,280.1 C567.2,280.8 569.1,284.2 570.6,286.0 C572.1,287.8 573.2,291.1 574.5,290.6 C575.8,290.1 577.0,287.1 578.5,283.0 C580.0,278.9 582.0,269.8 583.5,266.2 C585.0,262.6 586.2,261.7 587.4,261.2 C588.5,260.7 589.1,262.4 590.4,263.2 C591.7,264.0 593.9,265.4 595.4,266.2 C596.9,267.0 598.1,268.6 599.4,268.1 C600.7,267.6 602.1,264.7 603.3,263.2 C604.4,261.7 605.1,259.7 606.3,259.2 C607.5,258.7 609.0,260.7 610.3,260.2 C611.6,259.7 613.0,257.9 614.2,256.2 C615.4,254.6 616.4,251.0 617.6,250.3 C618.8,249.7 619.8,251.3 621.2,252.3 C622.6,253.3 624.6,256.0 626.1,256.2 C627.6,256.4 628.6,252.8 630.1,253.3 C631.6,253.8 633.6,257.2 635.1,259.2 C636.6,261.2 637.4,264.2 639.0,265.2 C640.6,266.2 643.2,266.0 645.0,265.2 C646.8,264.4 648.4,261.4 650.0,260.2 C651.6,259.0 653.1,259.2 654.9,258.2 C656.7,257.2 659.6,254.5 660.9,254.3 C662.2,254.1 662.2,256.1 662.8,256.8 C663.4,257.5 664.1,258.1 664.4,258.3" fill="none" stroke="#7a7a7a" stroke-width="1.5" stroke-linejoin="round" stroke-linecap="round"/>
<path d="M548.2,288.0 C548.6,287.3 549.8,285.3 550.7,284.0 C551.6,282.7 552.5,282.4 553.7,280.1 C554.9,277.8 556.4,273.4 557.7,270.1 C559.0,266.8 560.4,262.4 561.6,260.2 C562.7,258.1 563.4,257.6 564.6,257.2 C565.8,256.8 567.3,257.8 568.6,257.8 C569.9,257.8 571.4,257.0 572.6,257.2 C573.7,257.4 574.5,258.5 575.5,259.2 C576.5,259.9 577.2,261.7 578.5,261.2 C579.8,260.7 581.9,257.2 583.5,256.2 C585.1,255.2 586.9,256.2 588.4,255.3 C589.9,254.4 591.1,252.2 592.4,250.9 C593.7,249.6 594.9,248.1 596.4,247.3 C597.9,246.5 599.8,246.3 601.3,245.9 C602.8,245.5 604.0,244.8 605.3,244.9 C606.6,245.0 608.0,246.7 609.3,246.5 C610.6,246.3 611.9,244.7 613.2,243.9 C614.5,243.1 615.7,241.9 617.2,241.9 C618.7,241.9 620.5,244.4 622.2,243.9 C623.8,243.4 625.4,241.8 627.1,239.0 C628.7,236.2 630.6,229.9 632.1,227.1 C633.6,224.3 634.7,223.6 636.1,222.1 C637.5,220.6 638.9,217.9 640.4,218.1 C641.9,218.3 643.4,221.0 645.0,223.1 C646.6,225.3 648.5,228.7 650.0,231.0 C651.5,233.3 652.4,235.0 653.9,237.0 C655.4,239.0 657.6,241.8 658.9,242.9 C660.2,244.1 661.0,242.6 661.9,243.9 C662.8,245.2 664.0,249.7 664.4,250.9" fill="none" stroke="#1f8a3c" stroke-width="1.6" stroke-linejoin="round" stroke-linecap="round"/>
</g>
<line x1="606.1" y1="197" x2="606.1" y2="316" stroke="#666" stroke-width="1.4" stroke-dasharray="2.8,1.4"/>
<line x1="541.7" y1="316.5" x2="670.5" y2="316.5" stroke="#5a5a5a" stroke-width="1.5"/>
<path d="M605.2,178.5 L596.8,186.9 L599.9,187.7 L597.7,193.3 L599.9,194.0 L602.2,189.2 L604.4,190.8 Z" fill="#000"/><line x1="595.8" y1="179.3" x2="601.4" y2="179.3" stroke="#9a9a9a" stroke-width="1"/><line x1="592.7" y1="182.3" x2="598.0" y2="182.3" stroke="#b0b0b0" stroke-width="1"/><line x1="590.7" y1="185.8" x2="597.2" y2="185.8" stroke="#555" stroke-width="1"/><line x1="592.0" y1="190.0" x2="597.7" y2="190.0" stroke="#777" stroke-width="1"/>
<text transform="translate(558.5,328.0) scale(1.000,1.120)" font-size="8.60" text-anchor="middle" fill="#222" >-0.4</text>
<text transform="translate(582.1,328.0) scale(1.000,1.120)" font-size="8.60" text-anchor="middle" fill="#222" >-0.2</text>
<text transform="translate(606.0,328.0) scale(1.000,1.120)" font-size="8.60" text-anchor="middle" fill="#222" >0</text>
<text transform="translate(628.4,328.0) scale(1.000,1.120)" font-size="8.60" text-anchor="middle" fill="#222" >0.2</text>
<text transform="translate(651.3,328.0) scale(1.000,1.120)" font-size="8.60" text-anchor="middle" fill="#222" >0.4</text>
<text transform="translate(608.5,337.8) scale(1.000,1.120)" font-size="8.50" text-anchor="middle" fill="#222" >Time (s)</text>
<rect x="608" y="289" width="52" height="21" fill="#fff"/>
<rect x="610.0" y="291.9" width="8.2" height="6.6" fill="#1f8a3c" stroke="#1a1a1a" stroke-width="1.0"/>
<rect x="610.0" y="302.0" width="8.2" height="6.2" fill="#7d7d7d" stroke="#1a1a1a" stroke-width="1.0"/>
<text transform="translate(619.5,297.0) scale(1.000,1.120)" font-size="8.60" text-anchor="start" fill="#222" >High Conf</text>
<text transform="translate(619.5,307.4) scale(1.000,1.120)" font-size="8.60" text-anchor="start" fill="#222" >Low Conf</text>
<text transform="translate(522.3,352.2) scale(1.000,1.120)" font-size="8.20" text-anchor="start" fill="#222" >Insula</text>
</svg></body></html>
